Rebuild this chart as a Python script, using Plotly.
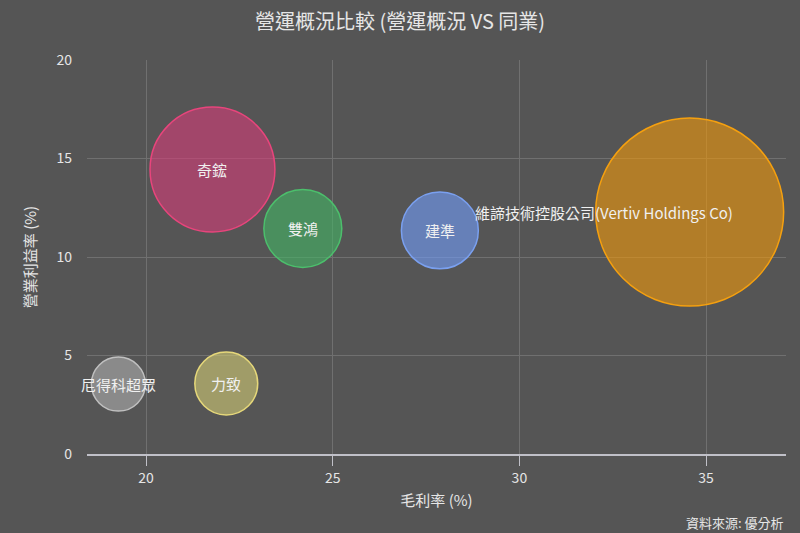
import plotly.graph_objects as go

# Peer comparison data
companies = ["奇鋐", "雙鴻", "建準", "尼得科超眾", "力致", "維諦技術控股公司(Vertiv Holdings Co)"]
gross_margin = [21.78, 24.2, 27.87, 19.26, 22.15, 34.56]      # 毛利率 (%)
operating_margin = [14.44, 11.45, 11.35, 3.55, 3.58, 12.28]   # 營業利益率 (%)
bubble_value = [39.0, 15.2, 14.8, 7.3, 9.9, 88.4]             # relative bubble size

fill_colors = [
    "rgba(213,60,120,0.6)", "rgba(67,182,100,0.6)", "rgba(113,157,250,0.6)",
    "rgba(173,173,173,0.6)", "rgba(210,203,117,0.6)", "rgba(240,152,10,0.6)",
]
line_colors = ["#e8457c", "#4cbf6c", "#7aa0f0", "#c0c0c0", "#e6d87a", "#f5a00f"]
label_shift = [0, 0, 0, 0, 0, -86]

BG = "#555555"
FONT = "Noto Sans CJK TC"
TEXT = "#e6e6e6"

fig = go.Figure()

fig.add_trace(
    go.Scatter(
        x=gross_margin,
        y=operating_margin,
        mode="markers",
        marker=dict(
            size=bubble_value,
            sizemode="area",
            sizeref=2 * max(bubble_value) / (188 ** 2),
            color=fill_colors,
            opacity=1,
            line=dict(color=line_colors, width=1.5),
        ),
        text=companies,
        hoverinfo="text",
        showlegend=False,
    )
)

# Data labels on the bubbles
for name, gx, oy, dx in zip(companies, gross_margin, operating_margin, label_shift):
    fig.add_annotation(
        x=gx, y=oy, text=name, showarrow=False, xshift=dx,
        font=dict(family=FONT, size=15, color="#f0f0f0"),
    )

fig.add_annotation(
    text="資料來源: 優分析",
    xref="paper", yref="paper", x=1, y=-0.173,
    xanchor="right", yanchor="middle", showarrow=False,
    font=dict(family=FONT, size=13, color=TEXT),
)

fig.update_layout(
    width=800,
    height=533,
    paper_bgcolor=BG,
    plot_bgcolor=BG,
    margin=dict(l=87, r=14, t=60, b=79),
    font=dict(family=FONT, color=TEXT),
    title=dict(
        text="營運概況比較 (營運概況 VS 同業)",
        x=0.5, xanchor="center", y=0.958, yanchor="middle",
        font=dict(family=FONT, size=20, color=TEXT),
    ),
    xaxis=dict(
        range=[18.42, 37.14],
        tickvals=[20, 25, 30, 35],
        showgrid=True,
        gridcolor="#707070",
        gridwidth=1,
        zeroline=False,
        showline=True,
        linecolor="#c0c0c8",
        linewidth=2,
        ticks="outside",
        ticklen=10,
        tickcolor="#c0c0c8",
        tickfont=dict(size=14, color=TEXT),
        title=dict(text="毛利率 (%)", font=dict(size=15, color=TEXT), standoff=10),
    ),
    yaxis=dict(
        range=[0, 20],
        tickvals=[0, 5, 10, 15, 20],
        showgrid=True,
        gridcolor="#707070",
        gridwidth=1,
        zeroline=False,
        showline=False,
        ticks="",
        ticklabelstandoff=14,
        tickfont=dict(size=14, color=TEXT),
        title=dict(text="營業利益率 (%)", font=dict(size=15, color=TEXT), standoff=16),
    ),
)

fig.write_html(
    "out.html",
    config={"displayModeBar": False},
    post_script="document.body.style.margin='0';",
)
